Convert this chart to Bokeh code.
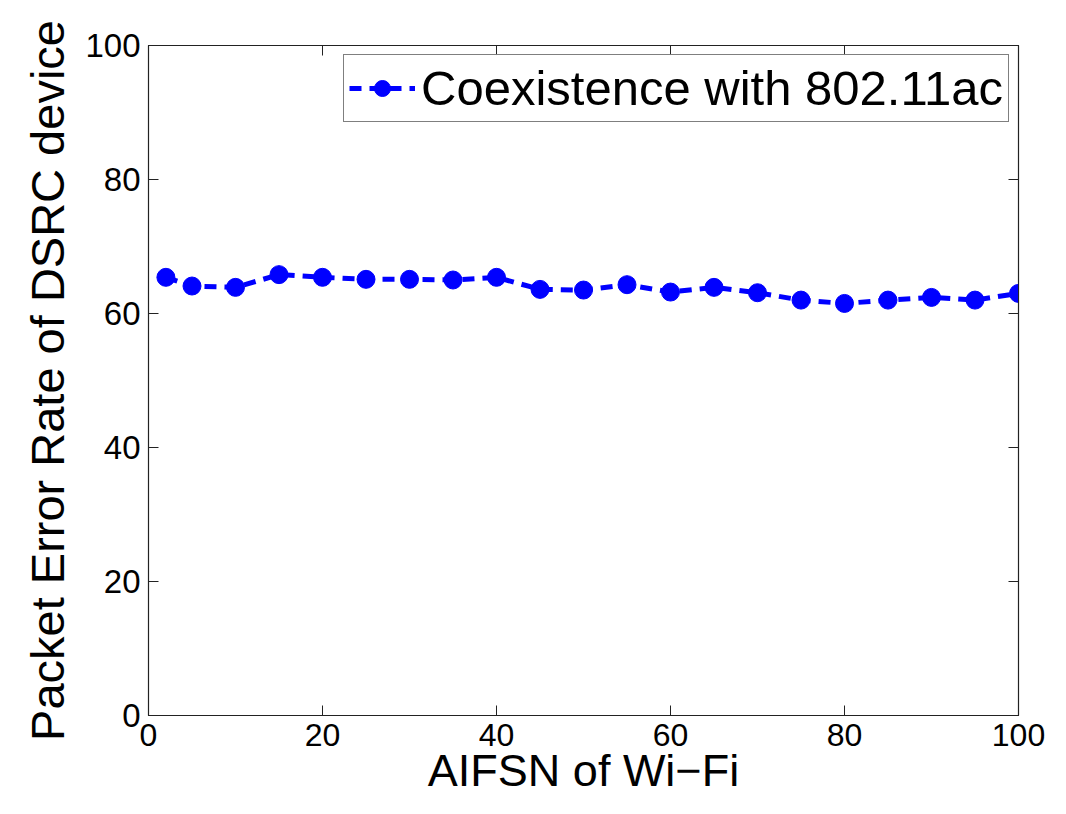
from bokeh.plotting import figure
from bokeh.models import LinearAxis, FixedTicker, Range1d, Legend, LegendItem
from bokeh.embed import file_html
from bokeh.resources import INLINE

aifsn = [2, 5, 10, 15, 20, 25, 30, 35, 40, 45, 50, 55, 60, 65, 70, 75, 80, 85, 90, 95, 100]
per = [65.4, 64.1, 63.9, 65.8, 65.4, 65.1, 65.1, 65.0, 65.4, 63.6, 63.5,
       64.3, 63.2, 63.9, 63.1, 62.0, 61.5, 62.0, 62.4, 62.0, 63.0]
ticks = [0, 20, 40, 60, 80, 100]
series_name = "Coexistence with 802.11ac"

FONT = "Liberation Sans"
AX = "#222222"

p = figure(width=1050, height=798, output_backend="svg", toolbar_location=None,
           x_range=Range1d(0, 100), y_range=Range1d(0, 100),
           min_border_left=148, min_border_right=32, min_border_top=45, min_border_bottom=75)
p.xgrid.visible = False
p.ygrid.visible = False
p.outline_line_color = AX
p.outline_line_width = 1.2

ln = p.line(aifsn, per, line_color="blue", line_width=5, line_dash="12 8")
sc = p.scatter(aifsn, per, size=18, fill_color="blue", line_color="blue")

for ax in (p.xaxis[0], p.yaxis[0]):
    ax.ticker = FixedTicker(ticks=ticks)
    ax.major_tick_in = 10
    ax.major_tick_out = 0
    ax.minor_tick_in = 0
    ax.minor_tick_out = 0
    ax.axis_line_color = AX
    ax.major_tick_line_color = AX
    ax.major_label_text_font = FONT
    ax.major_label_text_font_size = "33px"
    ax.major_label_text_color = "black"
    ax.axis_label_text_font = FONT
    ax.axis_label_text_font_size = "47px"
    ax.axis_label_text_font_style = "normal"
    ax.axis_label_text_color = "black"

p.xaxis[0].axis_label = "AIFSN of Wi\u2212Fi"
p.yaxis[0].axis_label = "Packet Error Rate of DSRC device"
p.xaxis[0].axis_label_text_font_size = "45px"
p.xaxis[0].major_label_text_font_size = "32px"
p.xaxis[0].major_label_standoff = 8
p.yaxis[0].major_label_standoff = 8
p.xaxis[0].axis_label_standoff = -4
p.yaxis[0].axis_label_standoff = 8

top = LinearAxis(ticker=FixedTicker(ticks=ticks), major_label_text_font_size="0px",
                 major_tick_in=10, major_tick_out=0, minor_tick_in=0, minor_tick_out=0,
                 axis_line_color=AX, major_tick_line_color=AX)
right = LinearAxis(ticker=FixedTicker(ticks=ticks), major_label_text_font_size="0px",
                   major_tick_in=10, major_tick_out=0, minor_tick_in=0, minor_tick_out=0,
                   axis_line_color=AX, major_tick_line_color=AX)
p.add_layout(top, "above")
p.add_layout(right, "right")

legend = Legend(items=[LegendItem(label=series_name, renderers=[ln, sc])],
                location="top_right")
legend.label_text_font = FONT
legend.label_text_font_size = "49px"
legend.label_text_color = "black"
legend.border_line_color = "black"
legend.border_line_width = 1.2
legend.glyph_width = 66
legend.glyph_height = 40
legend.label_standoff = 6
legend.padding = 5
legend.margin = 9
legend.label_height = 40
p.add_layout(legend)

open("out.html", "w").write(file_html(p, INLINE))
